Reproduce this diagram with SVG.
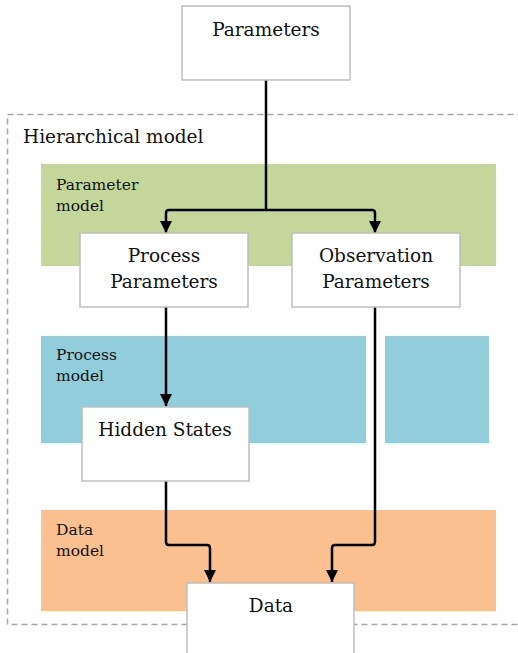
<svg xmlns="http://www.w3.org/2000/svg" width="518" height="653" viewBox="0 0 518 653">
<defs>
<style>
.node{fill:#fff;stroke:#bfbfbf;stroke-width:1.5}
.t{font-family:"DejaVu Serif","Liberation Serif",serif;font-size:18.5px;fill:#111;text-anchor:middle}
.s{font-family:"DejaVu Serif","Liberation Serif",serif;font-size:15.5px;fill:#111}
.c{fill:none;stroke:#000;stroke-width:2.5;stroke-linejoin:round}
</style>
<marker id="a" markerUnits="userSpaceOnUse" markerWidth="13" markerHeight="13" refX="12" refY="6" orient="auto" viewBox="0 0 13 12">
<path d="M0,0 L12,6 L0,12 Z" fill="#000"/>
</marker>
</defs>
<g id="hierarchical-model">
<rect x="7.5" y="114.5" width="520" height="510" fill="none" stroke="#a6a6a6" stroke-width="1.5" stroke-dasharray="6,4"/>
<text class="t" x="23" y="143" style="text-anchor:start">Hierarchical model</text>
</g>
<g id="parameter-model">
<rect x="41" y="164" width="455" height="102" fill="#c4d79b"/>
<text class="s" x="56" y="190">Parameter</text>
<text class="s" x="56" y="211">model</text>
</g>
<g id="process-model">
<rect x="41" y="336" width="325" height="107" fill="#92cddc"/>
<rect x="385" y="336" width="104" height="107" fill="#92cddc"/>
<text class="s" x="56" y="360">Process</text>
<text class="s" x="56" y="381">model</text>
</g>
<g id="data-model">
<rect x="41" y="510" width="455" height="101" fill="#fac090"/>
<text class="s" x="56" y="535">Data</text>
<text class="s" x="56" y="556">model</text>
</g>
<g id="connectors">
<path class="c" d="M266,80 V210"/>
<path class="c" d="M266,210 H169 Q166,210 166,213 V233" marker-end="url(#a)"/>
<path class="c" d="M266,210 H372 Q375,210 375,213 V233" marker-end="url(#a)"/>
<path class="c" d="M166,307 V406" marker-end="url(#a)"/>
<path class="c" d="M166,481 V542 Q166,545 169,545 H207 Q210,545 210,548 V582" marker-end="url(#a)"/>
<path class="c" d="M375,307 V542 Q375,545 372,545 H335 Q332,545 332,548 V582" marker-end="url(#a)"/>
</g>
<g id="parameters">
<rect class="node" x="182" y="6" width="168" height="74"/>
<text class="t" x="266" y="36">Parameters</text>
</g>
<g id="process-parameters">
<rect class="node" x="80" y="233" width="168" height="74"/>
<text class="t" x="164" y="262">Process</text>
<text class="t" x="164" y="288">Parameters</text>
</g>
<g id="observation-parameters">
<rect class="node" x="292" y="233" width="168" height="74"/>
<text class="t" x="376" y="262">Observation</text>
<text class="t" x="376" y="288">Parameters</text>
</g>
<g id="hidden-states">
<rect class="node" x="82" y="407" width="167" height="74"/>
<text class="t" x="165" y="436">Hidden States</text>
</g>
<g id="data">
<rect class="node" x="187" y="583" width="167" height="80"/>
<text class="t" x="271" y="612">Data</text>
</g>
</svg>
